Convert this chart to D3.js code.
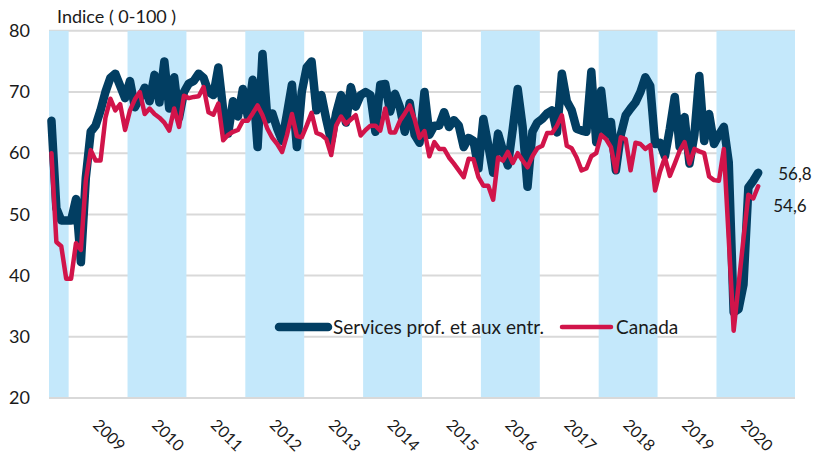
<!DOCTYPE html>
<html>
<head>
<meta charset="utf-8">
<script src="https://cdn.jsdelivr.net/npm/d3@7"></script>
<style>
  body { margin: 0; background: #ffffff; }
  svg { display: block; }
  text { font-family: Lato, "Open Sans", "Liberation Sans", sans-serif; fill: #1a1a1a; }
</style>
</head>
<body>
<svg id="chart" width="814" height="456"></svg>
<script>
// Monthly index, September 2008 to September 2020
const firstMonth = new Date(2008, 8, 1);
const axisEndMonth = new Date(2021, 4, 1); // axis runs a few months past the data

const services = [
  65.3, 51, 49, 49,                                                   // 2008 (Sep-Dec)
  49, 52.5, 42.2, 56, 63.5, 64.5, 67, 70, 72.3, 73, 71, 69,           // 2009
  71.8, 67.5, 69, 70.7, 68.5, 72.8, 68.3, 75, 67.3, 72.4, 65.8, 70,   // 2010
  71.4, 71.8, 73, 72.3, 70, 69.5, 74, 67, 63.2, 68.5, 66, 70.5,       // 2011
  66, 72, 61, 76.2, 65.5, 66.5, 64, 62, 66.5, 71.2, 61, 70,           // 2012
  74, 75, 67, 69.5, 65.5, 62, 66.5, 69.5, 65, 70.8, 67.6, 69.5,       // 2013
  70, 69.5, 63.5, 71.2, 71.3, 66.8, 69.7, 67.5, 63.5, 68.2, 63, 61.7, // 2014
  70, 63, 64.5, 64.5, 66.7, 64.3, 65.4, 64.5, 61, 62.5, 62, 57.5,     // 2015
  65.6, 61.3, 56.8, 63.2, 60.4, 58, 64, 70.5, 64.3, 54.5, 63.5, 65,   // 2016
  65.6, 66.5, 67, 63.4, 73, 68.5, 67, 64, 63.7, 63.5, 73.3, 61.8,     // 2017
  70.2, 63, 65.1, 57.2, 63, 66.2, 67.3, 68.3, 70, 72.4, 71, 61.5,     // 2018
  61.7, 59.5, 64, 69.2, 61, 65.9, 58.3, 63, 72.6, 62, 66.4, 61.5,     // 2019
  63, 64.3, 58.5, 34, 34.5, 38.5, 54.4, 55.5, 56.8                    // 2020 (Jan-Sep)
];

const canada = [
  60, 45.5, 44.8, 39.5,                                               // 2008 (Sep-Dec)
  39.5, 45.3, 44.2, 55.5, 60.5, 58.8, 58.8, 65.8, 68.9, 67, 68, 63.8, // 2009
  67, 68.8, 70, 66.4, 67.3, 66.4, 65.8, 65, 63.7, 67.3, 64.3, 69.4,   // 2010
  69, 69.2, 69.3, 70.8, 66.7, 66.3, 68.1, 62.1, 63, 63.5, 63.8, 65.3, // 2011
  65.3, 66.5, 67.8, 66.2, 64, 62.5, 61.5, 60.2, 63, 66.4, 62.8, 62.6, // 2012
  64.5, 66.6, 63.3, 63, 62.3, 59.7, 64.5, 66, 64.8, 65.5, 66.2, 62.9, // 2013
  63.8, 64.5, 64.5, 63.7, 67.3, 63.4, 63.4, 65.3, 66.5, 67.8, 65.5, 62.5, // 2014
  63.6, 59.5, 61.8, 60.7, 60.7, 59.3, 58.3, 57.2, 56.1, 59.1, 59, 56.1,   // 2015
  54.7, 54.7, 52.4, 59.3, 58.8, 60.2, 58.4, 60, 58.8, 57.7, 59.5, 60.8,   // 2016
  61.2, 63.3, 63.3, 64.5, 66.2, 61.2, 60.8, 59.3, 57.2, 57.5, 59.5, 60,   // 2017
  63, 62.3, 61, 57, 62.6, 62.3, 57.2, 61.7, 61.5, 60.7, 61.3, 53.9,       // 2018
  57, 59.3, 56.3, 58.3, 60.4, 61.8, 58.3, 60.7, 60.3, 60, 56.2, 55.6,     // 2019
  55.5, 60.7, 46, 31, 38.5, 46, 53.2, 52.6, 54.6                          // 2020 (Jan-Sep)
];

const yTicks = [20, 30, 40, 50, 60, 70, 80];
const yearLabels = ["2009", "2010", "2011", "2012", "2013", "2014", "2015", "2016", "2017", "2018", "2019", "2020"];
const shadedYears = [2008, 2010, 2012, 2014, 2016, 2018, 2020];
const seriesNames = ["Services prof. et aux entr.", "Canada"];
const endLabels = ["56,8", "54,6"];
const axisTitle = "Indice ( 0-100 )";

const colors = { services: "#023e62", canada: "#d1144a", band: "#c4e8fb", grid: "#d9d9d9" };

const svg = d3.select("#chart");
const plotLeft = 49, plotRight = 795, plotTop = 30.8, plotBottom = 398;

const months = d3.timeMonth.range(firstMonth, axisEndMonth);
const x = d3.scaleBand().domain(months.map(d => +d)).range([plotLeft, plotRight]);
const bw = x.bandwidth();
const cx = i => x(+months[i]) + bw / 2;
const y = d3.scaleLinear().domain([20, 80]).range([plotBottom, plotTop]);

// horizontal gridlines
svg.append("g").selectAll("line").data(yTicks).join("line")
  .attr("x1", plotLeft).attr("x2", plotRight)
  .attr("y1", d => y(d)).attr("y2", d => y(d))
  .attr("stroke", colors.grid).attr("stroke-width", 2);

// alternating year shading; the final shaded year runs to the end of the axis
const lastShaded = shadedYears[shadedYears.length - 1];
const bands = shadedYears.map(yr => {
  const ms = months.filter(m => yr === lastShaded ? m.getFullYear() >= yr : m.getFullYear() === yr);
  return { x0: x(+ms[0]), x1: x(+ms[ms.length - 1]) + bw };
});
svg.append("g").selectAll("rect").data(bands).join("rect")
  .attr("x", d => d.x0).attr("width", d => d.x1 - d.x0)
  .attr("y", plotTop).attr("height", plotBottom - plotTop)
  .attr("fill", colors.band);

// baseline
svg.append("line")
  .attr("x1", plotLeft).attr("x2", plotRight).attr("y1", y(20)).attr("y2", y(20))
  .attr("stroke", colors.grid).attr("stroke-width", 2);

// y axis labels
const yAxis = svg.append("g").attr("transform", `translate(${plotLeft},0)`)
  .call(d3.axisLeft(y).tickValues(yTicks).tickSize(0).tickPadding(19).tickFormat(d3.format("d")));
yAxis.select(".domain").remove();
yAxis.selectAll("text").attr("font-size", 18).attr("font-family", "Lato, 'Open Sans', sans-serif").attr("fill", "#1a1a1a");

// axis title
svg.append("text").attr("x", 57).attr("y", 23).attr("font-size", 18).text(axisTitle);

// year labels, rotated
svg.append("g").selectAll("text").data(yearLabels).join("text")
  .attr("transform", d => {
    const idx = months.findIndex(m => m.getFullYear() === +d && m.getMonth() === 6);
    return `translate(${x(+months[idx]) - 6},426) rotate(45)`;
  })
  .attr("font-size", 16)
  .text(d => d);

// series lines
const line = d3.line().x((d, i) => cx(i)).y(d => y(d)).curve(d3.curveLinear);
svg.append("path").datum(services)
  .attr("d", line).attr("fill", "none")
  .attr("stroke", colors.services).attr("stroke-width", 8.5)
  .attr("stroke-linejoin", "round").attr("stroke-linecap", "round");
svg.append("path").datum(canada)
  .attr("d", line).attr("fill", "none")
  .attr("stroke", colors.canada).attr("stroke-width", 4.5)
  .attr("stroke-linejoin", "round").attr("stroke-linecap", "round");

// end-of-series value labels
const last = services.length - 1;
svg.append("text").attr("x", cx(last) + 20).attr("y", y(services[last]) + 7)
  .attr("font-size", 17).text(endLabels[0]);
svg.append("text").attr("x", cx(last) + 15).attr("y", y(canada[last]) + 26)
  .attr("font-size", 17).text(endLabels[1]);

// legend
const legend = [
  { name: seriesNames[0], color: colors.services, w: 8.5, x: 279 },
  { name: seriesNames[1], color: colors.canada, w: 4.5, x: 562 }
];
const lg = svg.append("g").selectAll("g").data(legend).join("g")
  .attr("transform", d => `translate(${d.x},327)`);
lg.append("line").attr("x1", 0).attr("x2", 49)
  .attr("stroke", d => d.color).attr("stroke-width", d => d.w).attr("stroke-linecap", "round");
lg.append("text").attr("x", 54).attr("y", 6.5).attr("font-size", 19).text(d => d.name);
</script>
</body>
</html>
